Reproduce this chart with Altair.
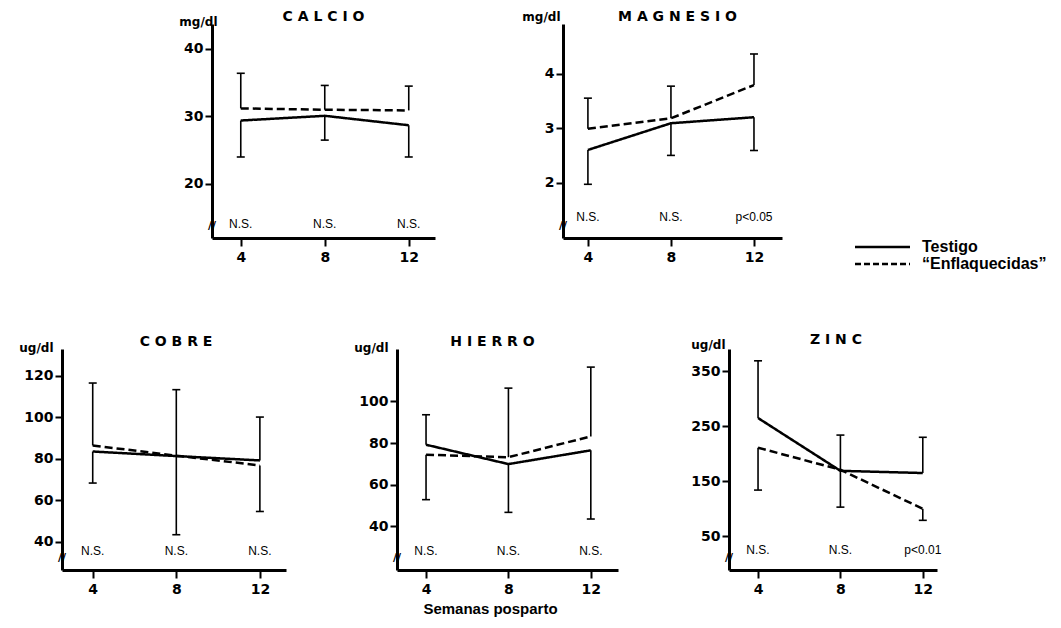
import altair as alt
import pandas as pd

weeks = [4, 8, 12]
legend_labels = ["Testigo", "\u201cEnflaquecidas\u201d"]
x_title = "Semanas posparto"

panel_titles = ["C A L C I O", "M A G N E S I O", "C O B R E", "H I E R R O", "Z I N C"]
units = ["mg/dl", "mg/dl", "ug/dl", "ug/dl", "ug/dl"]

calcio_ticks = [20, 30, 40]
calcio_testigo = [29.4, 30.1, 28.7]
calcio_enflaq = [31.2, 31.0, 30.9]
calcio_testigo_err = [24.0, 26.5, 24.0]
calcio_enflaq_err = [36.4, 34.6, 34.5]
calcio_sig = ["N.S.", "N.S.", "N.S."]

magnesio_ticks = [2, 3, 4]
magnesio_testigo = [2.60, 3.09, 3.20]
magnesio_enflaq = [2.99, 3.18, 3.79]
magnesio_testigo_err = [1.97, 2.50, 2.59]
magnesio_enflaq_err = [3.55, 3.77, 4.36]
magnesio_sig = ["N.S.", "N.S.", "p<0.05"]

cobre_ticks = [40, 60, 80, 100, 120]
cobre_testigo = [83.5, 81.3, 79.2]
cobre_enflaq = [86.4, 81.5, 76.8]
cobre_testigo_err = [68.3, 43.4, 100.1]
cobre_enflaq_err = [116.5, 113.3, 54.6]
cobre_sig = ["N.S.", "N.S.", "N.S."]

hierro_ticks = [40, 60, 80, 100]
hierro_testigo = [79.2, 69.9, 76.5]
hierro_enflaq = [74.4, 73.2, 83.2]
hierro_testigo_err = [93.6, 46.7, 43.5]
hierro_enflaq_err = [52.8, 106.4, 116.5]
hierro_sig = ["N.S.", "N.S.", "N.S."]

zinc_ticks = [50, 150, 250, 350]
zinc_testigo = [265, 169, 165]
zinc_enflaq = [211, 171, 100]
zinc_testigo_err = [369, 234, 230]
zinc_enflaq_err = [134, 103, 79]
zinc_sig = ["N.S.", "N.S.", "p<0.01"]

NUM_FONT = "DejaVu Sans"
TXT_FONT = "Liberation Sans"


def make_panel(title, unit, yvals, ydom, xdom, w, h, t_mean, e_mean, t_err, e_err,
               sig, sig_dy, title_dx, title_off, unit_x, unit_y, xtitle=None, extra=None):
    lines_df = pd.DataFrame({
        "week": weeks * 2,
        "value": t_mean + e_mean,
        "grupo": [legend_labels[0]] * 3 + [legend_labels[1]] * 3,
    })
    err_df = pd.DataFrame({"week": weeks * 2, "value": t_mean + e_mean, "end": t_err + e_err})
    sig_df = pd.DataFrame({"week": weeks, "sig": sig})

    xscale = alt.Scale(domain=xdom, nice=False, zero=False)
    yscale = alt.Scale(domain=ydom, nice=False, zero=False)

    xaxis_kw = dict(values=weeks, format="d", grid=False, domainWidth=3, domainColor="black",
                    tickWidth=2, tickSize=8, tickColor="black", labelFont=NUM_FONT,
                    labelFontSize=14, labelFontWeight="bold", labelColor="black",
                    labelPadding=4)
    if xtitle:
        xaxis = alt.Axis(title=xtitle, titleFont=TXT_FONT, titleFontSize=15,
                         titleFontWeight="bold", titleColor="black", titleX=93, titleY=38,
                         titleAlign="center", titleBaseline="middle", **xaxis_kw)
    else:
        xaxis = alt.Axis(title=None, **xaxis_kw)
    yaxis = alt.Axis(values=yvals, grid=False, domainWidth=3, domainColor="black",
                     tickWidth=2, tickSize=7, tickColor="black", labelFont=NUM_FONT,
                     labelFontSize=14, labelFontWeight="bold", labelColor="black",
                     labelPadding=2, title=unit, titleAngle=0, titleAlign="right",
                     titleBaseline="middle", titleX=unit_x, titleY=unit_y,
                     titleFont=NUM_FONT, titleFontSize=12, titleFontWeight="bold",
                     titleColor="black")

    X = alt.X("week:Q", scale=xscale, axis=xaxis)
    lines = alt.Chart(lines_df).mark_line(color="black", strokeWidth=2.5).encode(
        x=X,
        y=alt.Y("value:Q", scale=yscale, axis=yaxis),
        strokeDash=alt.StrokeDash("grupo:N", scale=alt.Scale(domain=legend_labels,
                                  range=[[1, 0], [8, 4]]), legend=None),
    )
    rules = alt.Chart(err_df).mark_rule(color="black", strokeWidth=1.6).encode(
        x=X,
        y=alt.Y("value:Q", scale=yscale, axis=yaxis),
        y2="end:Q",
    )
    caps = alt.Chart(err_df).mark_rule(color="black", strokeWidth=1.6, xOffset=-4,
                                       x2Offset=4).encode(
        x=X,
        x2="week:Q",
        y=alt.Y("end:Q", scale=yscale, axis=yaxis),
    )
    sigs = alt.Chart(sig_df).mark_text(font=TXT_FONT, fontSize=12, color="black",
                                       baseline="alphabetic").encode(
        x=X,
        y=alt.value(h - sig_dy),
        text="sig:N",
    )
    brk = alt.Chart(pd.DataFrame({"b": ["//"]})).mark_text(
        font=NUM_FONT, fontSize=11, fontWeight="bold", color="black").encode(
        x=alt.value(0), y=alt.value(h - 12), text="b:N")

    layers = [lines, rules, caps, sigs, brk]
    if extra:
        layers += extra
    return alt.layer(*layers).properties(
        width=w, height=h,
        title=alt.TitleParams(title, font=NUM_FONT, fontSize=14, fontWeight="bold",
                              color="black", anchor="middle", offset=title_off, dx=title_dx),
    )


leg_solid = alt.Chart(pd.DataFrame({"g": [legend_labels[0]]})).mark_rule(
    color="black", strokeWidth=2.5).encode(x=alt.value(292), x2=alt.value(347), y=alt.value(223))
leg_dash = alt.Chart(pd.DataFrame({"g": [legend_labels[1]]})).mark_rule(
    color="black", strokeWidth=2.5, strokeDash=[6, 3]).encode(
    x=alt.value(292), x2=alt.value(347), y=alt.value(240))
leg_t1 = alt.Chart(pd.DataFrame({"g": [legend_labels[0]]})).mark_text(
    font=TXT_FONT, fontSize=16, fontWeight="bold", color="black", align="left",
    baseline="middle").encode(x=alt.value(359), y=alt.value(223), text="g:N")
leg_t2 = alt.Chart(pd.DataFrame({"g": [legend_labels[1]]})).mark_text(
    font=TXT_FONT, fontSize=16, fontWeight="bold", color="black", align="left",
    baseline="middle").encode(x=alt.value(359), y=alt.value(240), text="g:N")

calcio = make_panel(panel_titles[0], units[0], calcio_ticks, [12.0, 43.7], [2.63, 13.25], 223, 214,
                    calcio_testigo, calcio_enflaq, calcio_testigo_err, calcio_enflaq_err,
                    calcio_sig, 10, 0, -9, 5, -3)
magnesio = make_panel(panel_titles[1], units[1], magnesio_ticks, [0.985, 4.91], [2.8, 13.35], 219, 214,
                      magnesio_testigo, magnesio_enflaq, magnesio_testigo_err, magnesio_enflaq_err,
                      magnesio_sig, 17, 5, -14, -3, -8,
                      extra=[leg_solid, leg_dash, leg_t1, leg_t2])
cobre = make_panel(panel_titles[2], units[2], cobre_ticks, [26.4, 132.9], [2.53, 13.25], 224, 221,
                   cobre_testigo, cobre_enflaq, cobre_testigo_err, cobre_enflaq_err,
                   cobre_sig, 15, 2, -8, -9, -2)
hierro = make_panel(panel_titles[3], units[3], hierro_ticks, [19.0, 125.2], [2.59, 13.32], 221, 221,
                    hierro_testigo, hierro_enflaq, hierro_testigo_err, hierro_enflaq_err,
                    hierro_sig, 15, -15, -8, -9, -2, xtitle=x_title)
zinc = make_panel(panel_titles[4], units[4], zinc_ticks, [-11.3, 390.5], [2.59, 12.69], 208, 221,
                  zinc_testigo, zinc_enflaq, zinc_testigo_err, zinc_enflaq_err,
                  zinc_sig, 16, 3, -9, -4, -5)

spacer = alt.Chart(pd.DataFrame({"a": [0]})).mark_point(opacity=0).encode(
    x=alt.value(0), y=alt.value(0)).properties(width=22, height=214)

row1 = alt.hconcat(spacer, calcio, magnesio, spacing=128, bounds="flush")
row2 = alt.hconcat(cobre, hierro, zinc, spacing=111, bounds="flush")

chart = alt.vconcat(row1, row2, spacing=61).properties(
    padding={"left": 10, "top": 2, "right": 2, "bottom": 2},
    background="white",
).configure_view(stroke=None)

chart.save("out.html", embed_options={"renderer": "svg", "actions": False})
